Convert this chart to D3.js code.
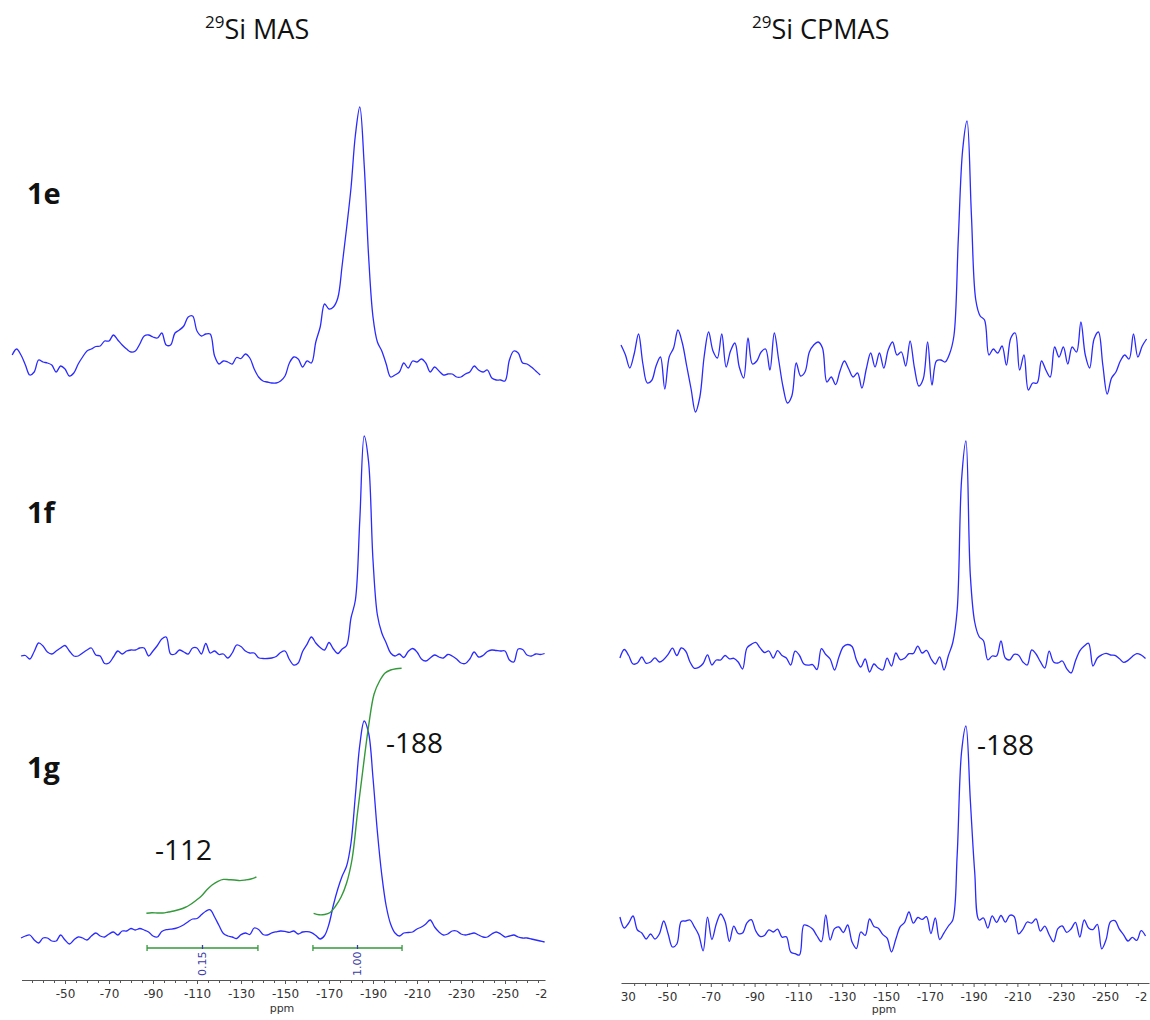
<!DOCTYPE html>
<html><head><meta charset="utf-8">
<script src="https://cdn.jsdelivr.net/npm/d3@7"></script>
<style>body{margin:0;background:#fff}</style>
</head><body>
<svg id="c" width="1150" height="1020"></svg>
<script>
// ---------- DATA (intensities, arbitrary units, sampled every 2 ppm) ----------
const STEP = -2;
const MAS_1E_START = -26, MAS_1F_START = -30, MAS_1G_START = -30;
const CP_1E_START = -29, CP_1F_START = -28.5, CP_1G_START = -28.5;

const MAS_1E = [25,31,25,15,5,8,20,18,17,15, 8,14,11,4,7,16,23,29,31,33.5,
 34,39,39,45,40,35,31,28,29,36, 44,45,43,42,47,35,35,47,50,54,
 63,64,49,44,46,46,24,16,19,18, 16,22.5,21.5,26,22,11,3,-1,-2,-3,
 -3,-1,4,17,23,21,13,19,17,38, 53,76,71,73,82,115,152,192,245,273,
 215,124,63,38,29,16,3,5,8,17, 12,19,18,21,17,8,13,9,5,6,
 6,3,3,6,8,14,10,8,10,2, 0,0,-1,20,29,27,17,16,13,9,5];

const MAS_1F = [24,24.5,21,28.5,37,34,28,26,29,32, 34.5,29,24,24,27,30,32,25,24,16.5,
 17,23,29,26,29,30,30,32,32,24, 29,34.5,41,43,26,26,30,28,26,32,
 32,26,36.5,27,29,25.5,26,22,27,35, 33.5,29,27,27,22.3,21.5,21.5,22,23.5,27.5,
 29,20.5,15,17,28.5,35.6,43,37,32.5,30, 37.5,31,26.5,31,34.5,62,80,160,244,218,
 120,65,47,37,27,24,26,22.5,28.5,31.5, 28,21,19,22,25,23,22,25.5,24,21,
 17,16.5,21,28,23,24.5,28.5,30,29.5,29, 29,20,18,31,30.5,25,24,26,25.5,26.5];

const MAS_1G = [22,24,25,20,17,22,22,19,19,25, 20,16,20,23,22,20,24,27,24,23,
 26,28,25,29,29,31.5,30,31.5,30,28, 24,23,28.5,30.3,30.8,31.5,33,35.3,38.3,41,
 41.5,45.2,48.8,50.2,43,34.5,26.5,24,23,21.5, 25.4,27,25.5,32,30.5,25.5,25,27.1,28.2,29,
 28.6,27.7,29,26,28,28.3,27.4,24.5,21,24.5, 36,55,71,84,94,117,165,215,239,227,
 182,128,85,54,36,27,24,27,27.5,28, 31,33,36,40,33,28,25,26,29,29,
 26,25,26,27,25,23,23,26,28,26, 23,24,25,23,22,22,21,20,19,18];

const CP_1E = [55,45.3,32,46,66,36,17,19.5,34,43, 11,43,52,70,57,34,11,-12,3,44,
 68,49,42,66,33,49,57,33,22,62, 36,39,48,51,30,67,40,13,-3,4,
 37,24,28,48,55,58,52,18,23,15.4, 29,39,31,23,27,12,31,47,33,47,
 32,50,58,45,48,34,59,32,14,21, 58,15,39,40,38,46,64,160,250,279,
 185,100,84,80,45,51,47,54,35,62, 67,30,45,10,17,17,39,30,23,53,
 43,53,36,53,48,78,45,32,61,68, 35,6,22,28,39,45,41,66,43,54,61];

const CP_1F = [42,50.5,44.5,36,37,43,36.7,38,42.2,38, 40.5,45.6,51.8,44.5,52,49,38,31.7,32.6,36.5,
 45.2,35,40,40,44.5,41.2,41.7,38,31,52, 55.6,57.6,52.1,47.5,49,42,49.3,44.5,42,35,
 48.8,44.5,36,34.8,35.4,30.5,51.3,45.5,41,30, 43,53.2,55.5,53.5,40,33,41,28,36,32,
 30,41.8,34,47,40.3,41.8,46.3,46.5,53.8,47, 49.6,41.5,36,43.2,30,44.5,57.5,90,220,259,
 125,78,63.5,59.2,40.2,44,44,59,42,40.1, 45.6,44.8,38,35,50,46,38.3,32,48.8,38,
 37,39,31.3,27,39,49.2,54,56.7,34,42, 45.2,46.7,45,44.7,41.6,37.6,39.6,43.5,46.4,45,41.6];

const CP_1G = [43,32,37,44,30,27,21,26,21,26, 39,26.3,13,16,38.5,39,40,33.1,25,9.2,
 42.8,20.5,36,46,38.5,18.7,33.8,26.5,27,37.2, 40.4,29.2,23.6,24.5,30.2,28,30.8,22.8,23.3,8,
 6.4,5,35,34,31,24,18.3,45,20,31.4, 33,27.5,35,18,11.5,28,24.6,41,33.5,31.8,
 25.6,21.8,8,21,33.3,37.7,48,36.8,42.5,40.6, 43.3,26.5,42,20.5,27.2,34,40,105,208,234,
 160,88,40,42,32,44.2,37.7,44.5,37.8,44.7, 43.5,26.2,30.7,38,36.9,41.2,28.9,33.8,25.3,18.2,
 31.3,34,27.6,31,37.6,23,40,32,30.4,35.7, 11.2,20.4,38.2,39.4,31.1,25.2,19,22.6,19.6,29.3,24];

// integral curves (1g MAS), sampled every 2.5 ppm
const INT_STEP = -2.5;
const INT_112_START = -87, INT_188_START = -163;
const INT_112 = [46.7,47.2,47,47,48,49,50.5,52.5,55.5,59.5,64,70.2,75.2,78.7,80.6,80.3,80,79.4,80,81,83];
const INT_188 = [46.7,45.2,45.5,47.5,54,63,77,101,148,192,234,266,279,287,290,291.3,291.8];
const INT_RANGES = [[-87.3,-137.7],[-162.7,-203.2]];
const INT_LABELS = ["0.15","1.00"];
const INT_BAR_LEVEL = 12;

const TICK_VALUES = [-30,-50,-70,-90,-110,-130,-150,-170,-190,-210,-230,-250,-270];
const TICK_LABELS = ["30","-50","-70","-90","-110","-130","-150","-170","-190","-210","-230","-250","-2"];
const ROW_LABELS = ["1e","1f","1g"];
const PANEL_TITLES = [["29","Si MAS"],["29","Si CPMAS"]];
const PEAK_LABELS = ["-112","-188","-188"];

// ---------- DRAWING ----------
const svg = d3.select('#c');
const blue = '#2a2aff', green = '#33993a';
const xL = d3.scaleLinear().domain([-50,-250]).range([65,505]);
const xR = d3.scaleLinear().domain([-50,-250]).range([667,1105]);
const rowY = base => d3.scaleLinear().domain([0,300]).range([base, base-300]);

const panels = [
  {x:xL, axis:[21.5,545,980], ppm:[282,1012], title:[205,39],
   rows:[{d:MAS_1E,s:MAS_1E_START,y:rowY(380)},{d:MAS_1F,s:MAS_1F_START,y:rowY(680)},{d:MAS_1G,s:MAS_1G_START,y:rowY(960)}]},
  {x:xR, axis:[621,1149,983], ppm:[884,1013], title:[752,39],
   rows:[{d:CP_1E,s:CP_1E_START,y:rowY(400)},{d:CP_1F,s:CP_1F_START,y:rowY(700)},{d:CP_1G,s:CP_1G_START,y:rowY(960)}]}
];

panels.forEach((p,pi)=>{
  const g = svg.append('g');
  p.rows.forEach(r=>{
    const line = d3.line().x((d,i)=>p.x(r.s + i*STEP)).y(d=>r.y(d)).curve(d3.curveCatmullRom.alpha(0.5));
    g.append('path').attr('d',line(r.d)).attr('fill','none').attr('stroke',blue).attr('stroke-width',1.3);
  });
  // axis
  const [a0,a1,ay] = p.axis;
  const sc = p.x.copy().domain([p.x.invert(a0), p.x.invert(a1)]).range([a0,a1]);
  const majors = TICK_VALUES.filter(v=>sc(v)>=a0 && sc(v)<=a1+5);
  const minors = d3.range(-25,-290,-5).filter(v=>TICK_VALUES.indexOf(v)<0 && sc(v)>=a0 && sc(v)<=a1);
  const gm = g.append('g').attr('transform',`translate(0,${ay})`)
    .call(d3.axisBottom(sc).tickValues(minors).tickSize(3).tickSizeOuter(0).tickFormat(''));
  gm.select('.domain').remove();
  const ga = g.append('g').attr('transform',`translate(0,${ay})`)
    .call(d3.axisBottom(sc).tickValues(majors).tickSize(4).tickSizeOuter(0).tickPadding(5)
      .tickFormat(d=>TICK_LABELS[TICK_VALUES.indexOf(d)]));
  ga.selectAll('path,line').attr('stroke','#555');
  gm.selectAll('line').attr('stroke','#555');
  ga.selectAll('text').attr('font-family','DejaVu Sans, Verdana, sans-serif').attr('font-size',12).attr('fill','#333');
  // truncated edge labels, as in the reference
  ga.selectAll('.tick text').filter(d=>d===-270).attr('text-anchor','start').attr('x',-14);
  ga.selectAll('.tick text').filter(d=>d===-30).attr('text-anchor','start').attr('x',-3);
  ga.selectAll('.tick').filter(d=>d===-270||d===-30).select('line').remove();
  svg.append('text').attr('x',p.ppm[0]).attr('y',p.ppm[1]).attr('text-anchor','middle')
    .attr('font-family','DejaVu Sans, Verdana, sans-serif').attr('font-size',11).attr('fill','#333').text('ppm');
  // title
  const t = svg.append('text').attr('x',p.title[0]).attr('y',p.title[1])
    .attr('font-family','Open Sans, sans-serif').attr('fill','#111');
  t.append('tspan').attr('font-size',17).attr('dy',-11).text(PANEL_TITLES[pi][0]);
  t.append('tspan').attr('font-size',27).attr('dy',11).text(PANEL_TITLES[pi][1]);
});

// integrals on MAS 1g
const y3 = panels[0].rows[2].y;
[[INT_112,INT_112_START],[INT_188,INT_188_START]].forEach(([d,s])=>{
  const line = d3.line().x((v,i)=>xL(s + i*INT_STEP)).y(v=>y3(v)).curve(d3.curveCatmullRom.alpha(0.5));
  svg.append('path').attr('d',line(d)).attr('fill','none').attr('stroke',green).attr('stroke-width',1.4);
});
INT_RANGES.forEach((rg,i)=>{
  const x1 = xL(rg[0]), x2 = xL(rg[1]), yb = y3(INT_BAR_LEVEL), cx = (x1+x2)/2;
  const gb = svg.append('g').attr('stroke',green).attr('stroke-width',1.3);
  gb.append('line').attr('x1',x1).attr('x2',x2).attr('y1',yb).attr('y2',yb);
  gb.append('line').attr('x1',x1).attr('x2',x1).attr('y1',yb-3).attr('y2',yb+3);
  gb.append('line').attr('x1',x2).attr('x2',x2).attr('y1',yb-3).attr('y2',yb+3);
  gb.append('line').attr('x1',cx).attr('x2',cx).attr('y1',yb-3).attr('y2',yb+1).attr('stroke','#3a3aa8');
  svg.append('text').attr('transform',`translate(${cx},${yb+28}) rotate(-90)`).attr('dy','0.35em')
    .attr('font-family','DejaVu Sans, Verdana, sans-serif').attr('font-size',11).attr('fill','#3a3aa8')
    .text(INT_LABELS[i]);
});

// row labels
[[27,204],[27,523],[27,778]].forEach((pos,i)=>{
  svg.append('text').attr('x',pos[0]).attr('y',pos[1]).attr('font-family','Open Sans, sans-serif')
    .attr('font-weight','bold').attr('font-size',29).attr('fill','#111').text(ROW_LABELS[i]);
});
// peak annotations
[[155,860],[386,753],[977,755]].forEach((pos,i)=>{
  svg.append('text').attr('x',pos[0]).attr('y',pos[1]).attr('font-family','Open Sans, sans-serif')
    .attr('font-size',28).attr('fill','#111').text(PEAK_LABELS[i]);
});
</script>
</body></html>
